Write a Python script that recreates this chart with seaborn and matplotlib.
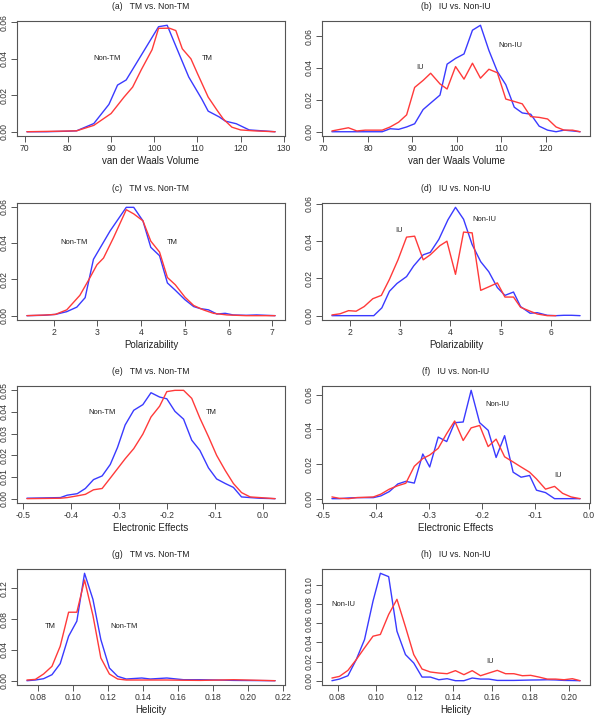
import matplotlib
matplotlib.use('Agg')
import matplotlib.pyplot as plt
import seaborn as sns

# (a) van der Waals volume, TM vs non-TM
a_x_non = [70.5, 75, 80, 82, 86, 89.5, 91.5, 93.5, 97, 101, 103, 105, 108, 111, 112.5, 115, 116.5, 119, 122, 125, 128]
a_y_non = [0, 0, 0.0003, 0.0005, 0.0045, 0.015, 0.0256, 0.0284, 0.042, 0.0576, 0.0584, 0.047, 0.030, 0.018, 0.0113,
           0.0082, 0.0058, 0.0044, 0.001, 0.0005, 0]
a_x_tm = [70.5, 78, 82, 86, 90, 93, 95, 97, 99.5, 101, 103.5, 105, 106.5, 108.5, 110, 112.5, 114.5, 116, 118, 120, 123, 128]
a_y_tm = [0, 0.0003, 0.0005, 0.0035, 0.010, 0.019, 0.0245, 0.034, 0.045, 0.0567, 0.0568, 0.0555, 0.0455, 0.040, 0.032,
          0.019, 0.012, 0.007, 0.0025, 0.001, 0.0005, 0]

# (b) van der Waals volume, IU vs non-IU
b_x = [71.9, 75.6, 77.5, 79.4, 83.2, 85.0, 86.9, 88.7, 90.5, 92.4, 94.1, 96.2, 97.8, 99.7, 101.6, 103.5, 105.3, 107.2,
       109.1, 111.0, 112.9, 114.7, 116.6, 118.5, 120.4, 122.3, 124.1, 126.0, 127.7]
b_y_non = [0, 0, 0, 0, 0, 0.0019, 0.0015, 0.003, 0.005, 0.0139, 0.018, 0.023, 0.0424, 0.046, 0.0488, 0.0637, 0.0668,
           0.051, 0.0378, 0.0295, 0.0154, 0.0118, 0.011, 0.0035, 0.001, 0, 0.001, 0.0005, 0]
b_y_iu = [0.0005, 0.0025, 0.0005, 0.001, 0.001, 0.003, 0.006, 0.0106, 0.0278, 0.0322, 0.0367, 0.030, 0.0268, 0.0409,
          0.033, 0.043, 0.0336, 0.0392, 0.037, 0.0205, 0.019, 0.0175, 0.0095, 0.009, 0.008, 0.003, 0.001, 0.001, 0]

# (c) polarizability, TM vs non-TM
c_x_non = [1.39, 1.77, 2.04, 2.3, 2.53, 2.72, 2.91, 3.29, 3.66, 3.83, 4.04, 4.22, 4.42, 4.6, 4.78, 5.0, 5.2, 5.35, 5.54,
           5.73, 5.92, 6.1, 6.4, 6.64, 7.06]
c_y_non = [0, 0.0002, 0.0007, 0.0022, 0.0047, 0.0099, 0.031, 0.0466, 0.0596, 0.0596, 0.0522, 0.0376, 0.033, 0.018, 0.014,
           0.0088, 0.005, 0.0039, 0.0032, 0.0009, 0.0013, 0.0004, 0.0002, 0.0004, 0]
c_x_tm = [1.39, 1.85, 2.04, 2.3, 2.6, 2.8, 2.99, 3.14, 3.37, 3.66, 3.83, 4.04, 4.22, 4.42, 4.6, 4.78, 5.0, 5.2, 5.42,
          5.65, 5.96, 6.4, 7.06]
c_y_tm = [0, 0.0004, 0.0007, 0.0032, 0.0112, 0.0196, 0.028, 0.0317, 0.043, 0.0583, 0.056, 0.0522, 0.041, 0.035, 0.021,
          0.017, 0.0102, 0.0056, 0.0032, 0.0013, 0.0004, 0, 0]

# (d) polarizability, IU vs non-IU
d_x_non = [1.65, 2.48, 2.64, 2.79, 2.94, 3.13, 3.27, 3.46, 3.6, 3.77, 3.95, 4.1, 4.26, 4.43, 4.6, 4.76, 4.93, 5.08, 5.25,
           5.39, 5.58, 5.72, 5.92, 6.09, 6.25, 6.4, 6.57]
d_y_non = [0, 0, 0.0042, 0.0131, 0.0173, 0.021, 0.0267, 0.0327, 0.034, 0.041, 0.0515, 0.0582, 0.0518, 0.0382, 0.029,
           0.0236, 0.0151, 0.0109, 0.0127, 0.0049, 0.0013, 0.0016, 0.0002, 0, 0.0002, 0.0002, 0]
d_x_iu = [1.65, 1.81, 1.98, 2.13, 2.29, 2.46, 2.63, 2.79, 2.96, 3.13, 3.29, 3.46, 3.6, 3.79, 3.93, 4.1, 4.26, 4.43, 4.6,
          4.76, 4.93, 5.08, 5.25, 5.39, 5.58, 5.72, 5.92, 6.09]
d_y_iu = [0.0004, 0.001, 0.0027, 0.0024, 0.0049, 0.0091, 0.0109, 0.0195, 0.030, 0.0422, 0.0427, 0.030, 0.0327, 0.0376,
          0.040, 0.0222, 0.0449, 0.0445, 0.0136, 0.0155, 0.0176, 0.010, 0.010, 0.0045, 0.0024, 0.0009, 0, 0]

# (e) electronic effects, TM vs non-TM
e_x = [-0.492, -0.422, -0.408, -0.387, -0.370, -0.353, -0.335, -0.318, -0.303, -0.287, -0.269, -0.250, -0.233, -0.215,
       -0.200, -0.183, -0.165, -0.148, -0.131, -0.113, -0.096, -0.078, -0.061, -0.044, -0.026, -0.006, 0.026]
e_y_non = [0.0002, 0.0005, 0.0016, 0.0023, 0.0047, 0.0088, 0.0105, 0.0158, 0.0236, 0.034, 0.0408, 0.0434, 0.0489, 0.0469,
           0.0461, 0.0403, 0.0367, 0.027, 0.0223, 0.0142, 0.0091, 0.007, 0.0052, 0.0008, 0.0005, 0.0002, 0]
e_y_tm = [0, 0.0002, 0.0005, 0.0013, 0.002, 0.0041, 0.0047, 0.0095, 0.0138, 0.0184, 0.0231, 0.0298, 0.0377, 0.0427,
          0.0494, 0.050, 0.050, 0.0463, 0.0372, 0.0286, 0.020, 0.013, 0.007, 0.0028, 0.0008, 0.0005, 0]

# (f) electronic effects, IU vs non-IU
f_x = [-0.483, -0.469, -0.452, -0.436, -0.421, -0.405, -0.391, -0.375, -0.359, -0.344, -0.328, -0.312, -0.299, -0.283,
       -0.267, -0.252, -0.236, -0.221, -0.205, -0.189, -0.174, -0.158, -0.142, -0.127, -0.111, -0.098, -0.081, -0.064,
       -0.049, -0.033, -0.016]
f_y_non = [0, 0, 0.0004, 0.0006, 0.0006, 0.0006, 0.0016, 0.0041, 0.0085, 0.010, 0.009, 0.0258, 0.0183, 0.0356, 0.033,
           0.0439, 0.0443, 0.0626, 0.0439, 0.0395, 0.0238, 0.0364, 0.0153, 0.0124, 0.0134, 0.0049, 0.0035, 0, 0, 0, 0]
f_y_iu = [0.001, 0.0002, 0, 0.0006, 0.0008, 0.001, 0.0026, 0.0055, 0.0075, 0.0089, 0.0187, 0.0232, 0.0252, 0.0291,
          0.0376, 0.0449, 0.0336, 0.0409, 0.0423, 0.0301, 0.0344, 0.0242, 0.0212, 0.0183, 0.0153, 0.0114, 0.0055, 0.0071,
          0.0031, 0.001, 0]

# (g) helicity, TM vs non-TM
g_x = [0.0739, 0.0787, 0.0834, 0.0882, 0.0929, 0.0977, 0.1024, 0.1068, 0.1116, 0.1161, 0.1210, 0.1257, 0.1306, 0.1395,
       0.1443, 0.1538, 0.1633, 0.1728, 0.1823, 0.1919, 0.2156]
g_y_non = [0, 0.0009, 0.0026, 0.0078, 0.0222, 0.0578, 0.0774, 0.1396, 0.1057, 0.0535, 0.0165, 0.0057, 0.0022, 0.0035,
           0.0022, 0.0035, 0.0013, 0.0013, 0.0009, 0.0004, 0]
g_y_tm = [0.0009, 0.0017, 0.0087, 0.0187, 0.0448, 0.0890, 0.0890, 0.1309, 0.0848, 0.0296, 0.0087, 0.0022, 0.0009, 0.0009,
          0.0009, 0.0009, 0.0006, 0.0004, 0.0008, 0.0013, 0]

# (h) helicity, IU vs non-IU
h_x = [0.0771, 0.0810, 0.0854, 0.0897, 0.0940, 0.0984, 0.1022, 0.1065, 0.1108, 0.1152, 0.1195, 0.1238, 0.1281, 0.1325,
       0.1368, 0.1411, 0.1455, 0.1498, 0.1541, 0.1584, 0.1628, 0.1671, 0.1714, 0.1758, 0.1801, 0.1844, 0.1887, 0.1930,
       0.1974, 0.2017, 0.2057]
h_y_non = [0, 0.0017, 0.0052, 0.022, 0.043, 0.0832, 0.1122, 0.1087, 0.0517, 0.0273, 0.0185, 0.0038, 0.0038, 0.001,
           0.0021, 0, 0, 0.0028, 0.0017, 0.0017, 0.0003, 0.0003, 0.0003, 0.0005, 0.0007, 0.0008, 0.001, 0.0008, 0.0003,
           0.0002, 0]
h_y_iu = [0.0028, 0.0045, 0.0108, 0.022, 0.0343, 0.0465, 0.0483, 0.0692, 0.085, 0.0563, 0.0273, 0.0122, 0.0091, 0.008,
          0.0073, 0.0105, 0.0063, 0.0105, 0.0052, 0.008, 0.0108, 0.0073, 0.0073, 0.0052, 0.0056, 0.0038, 0.0017, 0.0017,
          0.001, 0.0021, 0]

red = '#ff3a3a'
blue = '#3a3aff'

panels = [
    ('(a)   TM vs. Non-TM', 'van der Waals Volume', a_x_non, a_y_non, a_x_tm, a_y_tm,
     [70, 80, 90, 100, 110, 120, 130], ['0.00', '0.02', '0.04', '0.06'],
     [('Non-TM', 89.1, 0.040), ('TM', 112.2, 0.040)]),
    ('(b)   IU vs. Non-IU', 'van der Waals Volume', b_x, b_y_non, b_x, b_y_iu,
     [70, 80, 90, 100, 110, 120], ['0.00', '0.02', '0.04', '0.06'],
     [('IU', 91.8, 0.040), ('Non-IU', 112.0, 0.054)]),
    ('(c)   TM vs. Non-TM', 'Polarizability', c_x_non, c_y_non, c_x_tm, c_y_tm,
     [2, 3, 4, 5, 6, 7], ['0.00', '0.02', '0.04', '0.06'],
     [('Non-TM', 2.46, 0.040), ('TM', 4.70, 0.040)]),
    ('(d)   IU vs. Non-IU', 'Polarizability', d_x_non, d_y_non, d_x_iu, d_y_iu,
     [2, 3, 4, 5, 6], ['0.00', '0.02', '0.04', '0.06'],
     [('IU', 2.99, 0.0455), ('Non-IU', 4.68, 0.0518)]),
    ('(e)   TM vs. Non-TM', 'Electronic Effects', e_x, e_y_non, e_x, e_y_tm,
     [-0.5, -0.4, -0.3, -0.2, -0.1, 0.0], ['0.00', '0.01', '0.02', '0.03', '0.04', '0.05'],
     [('Non-TM', -0.335, 0.040), ('TM', -0.108, 0.040)]),
    ('(f)   IU vs. Non-IU', 'Electronic Effects', f_x, f_y_non, f_x, f_y_iu,
     [-0.5, -0.4, -0.3, -0.2, -0.1, 0.0], ['0.00', '0.02', '0.04', '0.06'],
     [('Non-IU', -0.172, 0.0547), ('IU', -0.058, 0.0134)]),
    ('(g)   TM vs. Non-TM', 'Helicity', g_x, g_y_non, g_x, g_y_tm,
     [0.08, 0.10, 0.12, 0.14, 0.16, 0.18, 0.20, 0.22], ['0.00', '0.04', '0.08', '0.12'],
     [('TM', 0.0872, 0.070), ('Non-TM', 0.1295, 0.070)]),
    ('(h)   IU vs. Non-IU', 'Helicity', h_x, h_y_non, h_x, h_y_iu,
     [0.08, 0.10, 0.12, 0.14, 0.16, 0.18, 0.20], ['0.00', '0.02', '0.04', '0.06', '0.08', '0.10'],
     [('Non-IU', 0.0831, 0.0797), ('IU', 0.1588, 0.0203)]),
]

sns.set_style('ticks')
plt.rcParams['font.family'] = ['Liberation Sans', 'DejaVu Sans']

W, H = 600, 717
fig = plt.figure(figsize=(W / 100, H / 100), dpi=100)

# box positions in pixels
col_left = [17, 322]
col_right = [285, 590]
row_top = [21, 203, 386, 569]
row_bot = [136, 320, 503, 685]

xfmt = ['{:.0f}', '{:.0f}', '{:.0f}', '{:.0f}', '{:.1f}', '{:.1f}', '{:.2f}', '{:.2f}']

for i, (title, xlabel, xn, yn, xp, yp, xticks, yticks, notes) in enumerate(panels):
    r, c = divmod(i, 2)
    ax = fig.add_axes([col_left[c] / W, 1 - row_bot[r] / H,
                       (col_right[c] - col_left[c]) / W, (row_bot[r] - row_top[r]) / H])
    sns.lineplot(x=xn, y=yn, ax=ax, color=blue, linewidth=1.0, estimator=None, sort=False)
    sns.lineplot(x=xp, y=yp, ax=ax, color=red, linewidth=1.0, estimator=None, sort=False)
    ax.margins(x=0.04, y=0.04)
    ax.set_xticks(xticks)
    ax.set_xticklabels([xfmt[i].format(v) for v in xticks])
    ax.set_yticks([float(t) for t in yticks])
    ax.set_yticklabels(yticks, rotation=90, va='center')
    ax.tick_params(length=4, width=0.7, colors='#555555', labelcolor='#333333', labelsize=6.2, pad=2)
    for sp in ax.spines.values():
        sp.set_visible(True)
        sp.set_color('#555555')
        sp.set_linewidth(0.8)
    ax.set_xlabel(xlabel, fontsize=7, color='#222222', labelpad=2)
    ax.set_ylabel('')
    ax.set_title(title, fontsize=6.2, color='#222222', pad=8.5)
    for txt, tx, ty in notes:
        ax.text(tx, ty, txt, fontsize=5.4, color='#222222', ha='center', va='center')

fig.savefig('out.png', dpi=100)
